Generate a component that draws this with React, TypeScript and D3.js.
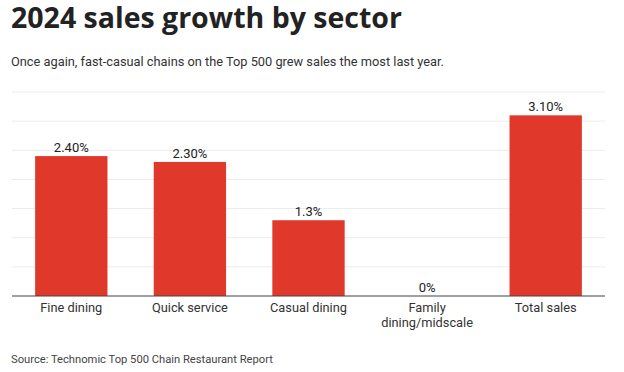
import React from "react";
import * as d3 from "d3";

const categories = ["Fine dining", "Quick service", "Casual dining", "Family\ndining/midscale", "Total sales"];
const values = [2.4, 2.3, 1.3, 0, 3.1];
const valueLabels = ["2.40%", "2.30%", "1.3%", "0%", "3.10%"];
const gridTicks = [0.5, 1, 1.5, 2, 2.5, 3, 3.5];

const W = 624;
const H = 372;

export default function App() {
  const x = d3.scaleBand<string>().domain(categories).range([12, 605]).paddingInner(0.39).paddingOuter(0.195);
  const y = d3.scaleLinear().domain([0, 3.5]).range([296, 92]);
  const font = "Roboto, sans-serif";
  return (
    <svg width={W} height={H} style={{ position: "absolute", left: 0, top: 0, background: "#fff" }}>
      <text x={11} y={27.5} fontFamily="'Open Sans', sans-serif" fontWeight={700} fontSize={28.5} fill="#222">
        2024 sales growth by sector
      </text>
      <text x={11} y={65.5} fontFamily={font} fontSize={12.8} fill="#333">
        Once again, fast-casual chains on the Top 500 grew sales the most last year.
      </text>
      {gridTicks.map((t) => (
        <line key={t} x1={12} x2={605} y1={y(t)} y2={y(t)} stroke="#ebebeb" strokeWidth={1} />
      ))}
      {categories.map((c, i) => (
        <rect
          key={c}
          x={x(c)}
          y={y(values[i])}
          width={x.bandwidth()}
          height={y(0) - y(values[i])}
          fill="#e0392b"
        />
      ))}
      <line x1={12} x2={605} y1={y(0)} y2={y(0)} stroke="#444" strokeWidth={1.2} />
      {categories.map((c, i) => (
        <text
          key={"v" + c}
          x={(x(c) as number) + x.bandwidth() / 2}
          y={y(values[i]) - 4}
          textAnchor="middle"
          fontFamily={font}
          fontSize={13}
          fill="#222"
        >
          {valueLabels[i]}
        </text>
      ))}
      {categories.map((c) => (
        <text
          key={"c" + c}
          x={(x(c) as number) + x.bandwidth() / 2}
          y={312}
          textAnchor="middle"
          fontFamily={font}
          fontSize={12.8}
          fill="#333"
        >
          {c.split("\n").map((line, j) => (
            <tspan key={j} x={(x(c) as number) + x.bandwidth() / 2} dy={j === 0 ? 0 : 15}>
              {line}
            </tspan>
          ))}
        </text>
      ))}
      <text x={11} y={363} fontFamily={font} fontSize={11.2} fill="#444">
        Source: Technomic Top 500 Chain Restaurant Report
      </text>
    </svg>
  );
}
